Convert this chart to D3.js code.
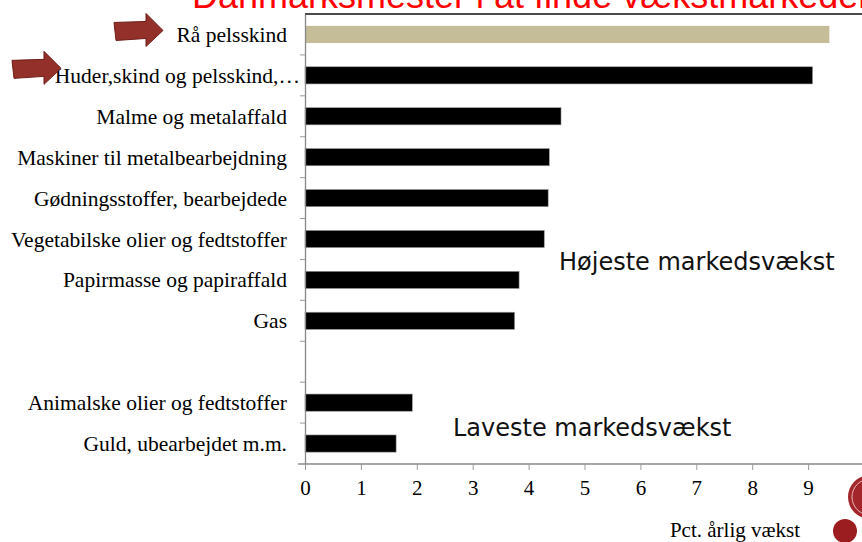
<!DOCTYPE html>
<html>
<head>
<meta charset="utf-8">
<script src="https://cdn.jsdelivr.net/npm/d3@7"></script>
<style>
  html, body { margin: 0; padding: 0; background: #fff; overflow: hidden; }
  svg { display: block; }
</style>
</head>
<body>
<div id="chart"></div>
<script>
// categories top to bottom, "" = empty slot between the two groups
var categories = [
    "Rå pelsskind",
    "Huder,skind og pelsskind,…",
    "Malme og metalaffald",
    "Maskiner til metalbearbejdning",
    "Gødningsstoffer, bearbejdede",
    "Vegetabilske olier og fedtstoffer",
    "Papirmasse og papiraffald",
    "Gas",
    "",
    "Animalske olier og fedtstoffer",
    "Guld, ubearbejdet m.m."
];
var values = [9.38, 9.08, 4.58, 4.37, 4.35, 4.28, 3.83, 3.75, null, 1.92, 1.63];
var highlight = ["Rå pelsskind"];
var xTicks = [0, 1, 2, 3, 4, 5, 6, 7, 8, 9, 10];

var title = "Danmarksmester i at finde vækstmarkeder";
var notes = ["Højeste markedsvækst", "Laveste markedsvækst"];
var xTitle = "Pct. årlig vækst";

var W = 862, H = 542;
var plotLeft = 305, plotTop = 14, plotBottom = 464;

var svg = d3.select("#chart").append("svg")
    .attr("width", W)
    .attr("height", H);

var slots = categories.map(function(d, i){ return i; });

var y = d3.scaleBand()
    .domain(slots)
    .range([plotTop, plotBottom])
    .padding(0);

var x = d3.scaleLinear()
    .domain([0, 10])
    .range([plotLeft, plotLeft + 559]);

// title, cut off at the top like in the slide
svg.append("text")
    .attr("x", 192)
    .attr("y", 8)
    .attr("font-family", "Liberation Sans, Arial, sans-serif")
    .attr("font-size", 36)
    .attr("fill", "#ff0000")
    .text(title);

// top frame line
svg.append("line")
    .attr("x1", plotLeft).attr("x2", W)
    .attr("y1", plotTop).attr("y2", plotTop)
    .attr("stroke", "#111")
    .attr("stroke-width", 1.5);

// bars
var barH = y.bandwidth() * 0.42;
svg.selectAll("rect.bar")
    .data(values.map(function(v, i){ return {i: i, v: v, name: categories[i]}; })
        .filter(function(d){ return d.v !== null; }))
    .enter()
    .append("rect")
    .attr("class", "bar")
    .attr("x", x(0))
    .attr("y", function(d){ return y(d.i) + (y.bandwidth() - barH) / 2; })
    .attr("width", function(d){ return x(d.v) - x(0); })
    .attr("height", barH)
    .attr("fill", function(d){ return highlight.indexOf(d.name) >= 0 ? "#c4bd97" : "#000"; })
    .attr("stroke", function(d){ return highlight.indexOf(d.name) >= 0 ? "none" : "#999"; })
    .attr("stroke-width", 0.6);

// y axis: line and ticks at the band edges
var yAxis = d3.axisLeft(y)
    .tickValues(slots)
    .tickFormat("")
    .tickSize(5)
    .tickSizeOuter(0);
var gy = svg.append("g")
    .attr("transform", "translate(" + plotLeft + ",0)")
    .call(yAxis);
gy.selectAll(".tick").attr("transform", function(d){ return "translate(0," + (y(d) + y.bandwidth()) + ")"; });
gy.selectAll(".tick").filter(function(d){ return d === slots.length - 1; }).remove();
gy.select("path.domain").attr("stroke", "#888").attr("stroke-width", 1.3);
gy.selectAll(".tick line").attr("stroke", "#999");

// category labels (the truncated one spills a bit past the others)
svg.selectAll("text.cat")
    .data(categories)
    .enter()
    .append("text")
    .attr("class", "cat")
    .attr("x", function(d){ return d.slice(-1) === "…" ? plotLeft - 5 : plotLeft - 18; })
    .attr("y", function(d, i){ return y(i) + y.bandwidth() / 2; })
    .attr("dy", "0.35em")
    .attr("text-anchor", "end")
    .attr("font-family", "Liberation Serif, Times New Roman, serif")
    .attr("font-size", 21.5)
    .attr("fill", "#000")
    .text(function(d){ return d; });

// x axis
var gx = svg.append("g")
    .attr("transform", "translate(0," + plotBottom + ")")
    .call(d3.axisBottom(x).tickValues(xTicks).tickSize(6).tickSizeOuter(0).tickPadding(10));
gx.select("path.domain").attr("d", "M" + (plotLeft - 7) + ",0H" + W).attr("stroke", "#888").attr("stroke-width", 1.5);
gx.selectAll(".tick line").attr("stroke", "#999");
gx.selectAll(".tick text")
    .attr("font-family", "Liberation Serif, Times New Roman, serif")
    .attr("font-size", 21)
    .attr("fill", "#000");

// group notes
svg.append("text")
    .attr("x", 559).attr("y", 270)
    .attr("font-family", "DejaVu Sans, sans-serif")
    .attr("font-size", 24)
    .attr("fill", "#111")
    .text(notes[0]);
svg.append("text")
    .attr("x", 453).attr("y", 436)
    .attr("font-family", "DejaVu Sans, sans-serif")
    .attr("font-size", 24)
    .attr("fill", "#111")
    .text(notes[1]);

// axis title
svg.append("text")
    .attr("x", 800).attr("y", 537)
    .attr("text-anchor", "end")
    .attr("font-family", "Liberation Serif, Times New Roman, serif")
    .attr("font-size", 21)
    .attr("fill", "#000")
    .text(xTitle);

// arrows pointing at the first two rows
var arrow = "M0,-8 L32,-9 L32,-17 L49,0 L32,16 L32,8 L2,10 Z";
[[114, y(0) + y.bandwidth() / 2 - 4], [12, y(1) + y.bandwidth() / 2 - 7]].forEach(function(p){
    svg.append("path")
        .attr("d", arrow)
        .attr("transform", "translate(" + p[0] + "," + p[1] + ")")
        .attr("fill", "#93302a")
        .attr("stroke", "#6e1d17")
        .attr("stroke-width", 1);
});

// logo bits in the corner
svg.append("circle")
    .attr("cx", 870).attr("cy", 497).attr("r", 22)
    .attr("fill", "#a3262a");
svg.append("circle")
    .attr("cx", 870).attr("cy", 497).attr("r", 18)
    .attr("fill", "none").attr("stroke", "#e8b8b8").attr("stroke-width", 1);
svg.append("circle")
    .attr("cx", 845).attr("cy", 531).attr("r", 12)
    .attr("fill", "#9b1d20");
</script>
</body>
</html>
